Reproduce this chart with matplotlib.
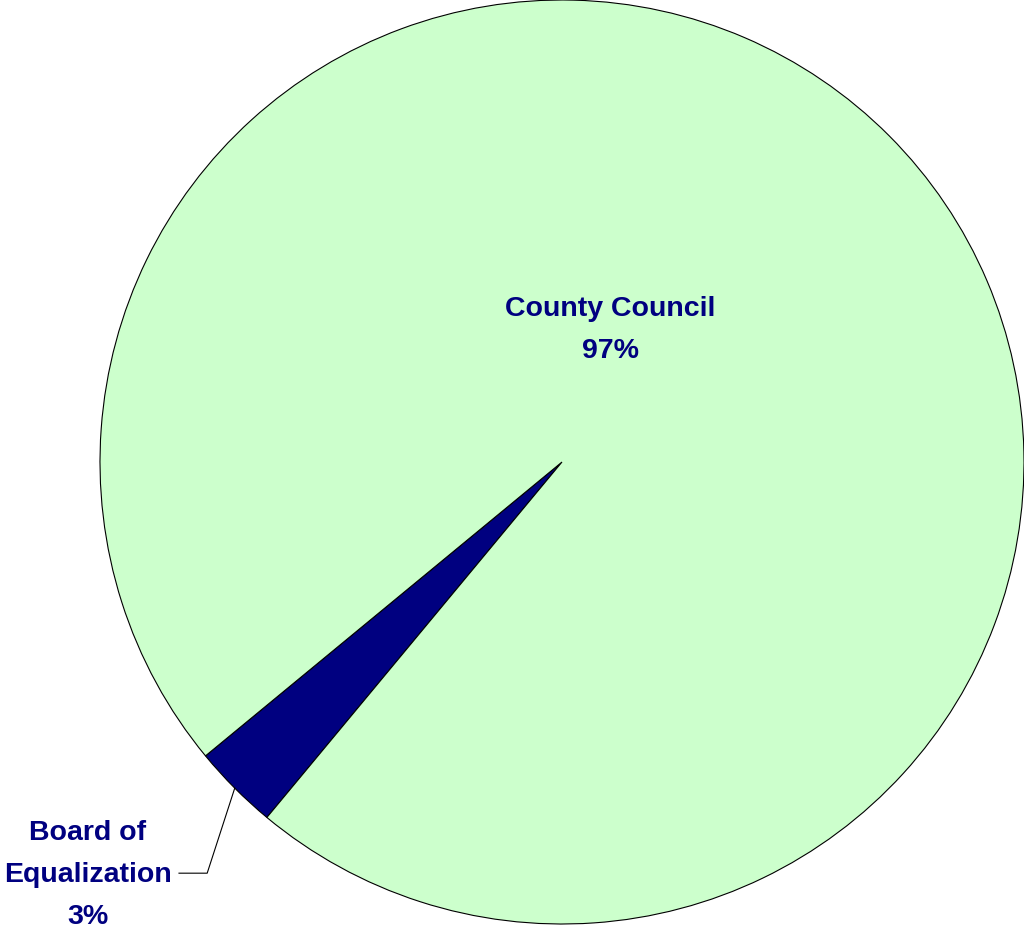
import numpy as np
import matplotlib
matplotlib.use('Agg')
import matplotlib.pyplot as plt

labels = ['Board of\nEqualization', 'County Council']
shares = [3, 97]
colors = ['#000080', '#CCFFCC']
start_angle = 219.5

fig = plt.figure(figsize=(10.24, 9.31), dpi=100)
ax = fig.add_axes([100 / 1024, 7 / 931, 924 / 1024, 924 / 931])

wedges, _ = ax.pie(shares, colors=colors, startangle=start_angle, radius=1.0,
                   wedgeprops=dict(edgecolor='black', linewidth=0.8))
ax.set_xlim(-1, 1)
ax.set_ylim(-1, 1)
ax.set_aspect('equal')
ax.axis('off')

font = dict(family=['Liberation Sans', 'DejaVu Sans'], fontweight='bold',
            color='#000080', fontsize=20.5, ha='center', va='center',
            linespacing=1.8, clip_on=False)

# big slice label sits inside the wedge
ax.text(0.104, 0.286, f'{labels[1]}\n{shares[1]}%', **font)

# small slice gets a leader line out to the left
mid = np.deg2rad(start_angle + shares[0] / sum(shares) * 360 / 2)
x0, y0 = np.cos(mid), np.sin(mid)
ax.plot([x0, -0.768, -0.829], [y0, -0.890, -0.890], color='black',
        linewidth=0.8, clip_on=False)
ax.text(-1.026, -0.894, f'{labels[0]}\n{shares[0]}%', **font)

fig.savefig('out.png', dpi=100, facecolor='white')
